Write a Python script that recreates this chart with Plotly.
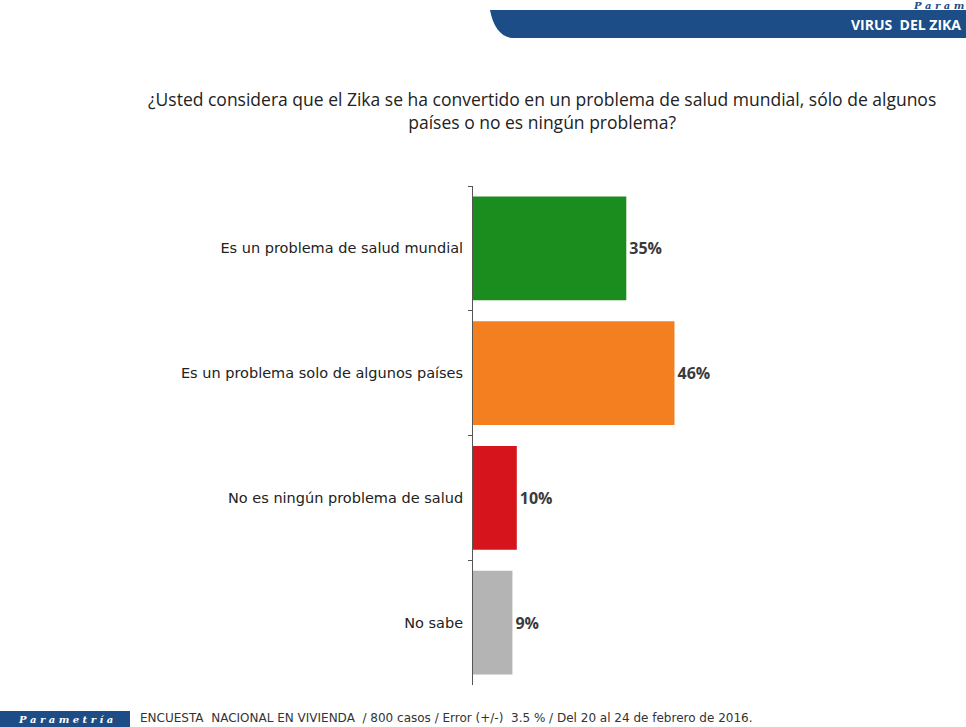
import plotly.graph_objects as go

categories = ["Es un problema de salud mundial", "Es un problema solo de algunos países",
              "No es ningún problema de salud", "No sabe"]
values = [35, 46, 10, 9]
labels = ["35%", "46%", "10%", "9%"]
colors = ["#1b8c1e", "#f47f20", "#d5141b", "#b4b4b4"]

W, H = 966, 727
def px(x): return x / W
def py(y): return 1 - y / H

fig = go.Figure(go.Bar(
    x=values, y=categories, orientation="h",
    marker=dict(color=colors, line=dict(width=0)),
    text=["<b>%s</b>" % t for t in labels], textposition="outside", cliponaxis=False,
    textfont=dict(family="Open Sans", size=16, color="#3a3a3a"),
    width=0.83,
))

fig.update_layout(
    width=W, height=H, margin=dict(l=0, r=0, t=0, b=0),
    paper_bgcolor="white", plot_bgcolor="rgba(0,0,0,0)",
    showlegend=False,
    xaxis=dict(domain=[px(473), px(911)], range=[0, 100], visible=False),
    yaxis=dict(domain=[py(685), py(186)], autorange="reversed",
               showline=True, linecolor="#555", linewidth=1,
               ticks="outside", ticklen=4, tickcolor="#555", tickson="boundaries",
               ticklabelstandoff=6,
               tickfont=dict(family="DejaVu Sans", size=14.5, color="#222"),
               showgrid=False, zeroline=False),
    font=dict(family="Open Sans"),
)

# header band
fig.add_shape(type="path", xref="paper", yref="paper",
              path=f"M {px(500)} {py(10)} L {px(966)} {py(10)} L {px(966)} {py(38)} L {px(512)} {py(38)} Q {px(495)} {py(36)} {px(490)} {py(10)} Z",
              fillcolor="#1c4d86", line=dict(width=0), layer="below")
fig.add_annotation(x=px(963), y=py(25), xref="paper", yref="paper", text="<b>VIRUS  DEL ZIKA</b>",
                   showarrow=False, xanchor="right", yanchor="middle",
                   font=dict(family="Open Sans", size=14, color="white"))
fig.add_annotation(x=px(966), y=py(5), xref="paper", yref="paper", text="<b><i>P a r a m</i></b>",
                   showarrow=False, xanchor="right", yanchor="middle",
                   font=dict(family="DejaVu Serif", size=10, color="#1c4d86"))

# title
fig.add_annotation(x=px(542), y=py(111), xref="paper", yref="paper",
                   text="¿Usted considera que el Zika se ha convertido en un problema de salud mundial, sólo de algunos<br>países o no es ningún problema?",
                   showarrow=False, xanchor="center", yanchor="middle", align="center",
                   font=dict(family="Open Sans", size=17.5, color="#222"))

# footer
fig.add_shape(type="rect", xref="paper", yref="paper",
              x0=px(0), x1=px(130), y0=py(727), y1=py(711),
              fillcolor="#1c4d86", line=dict(width=0))
fig.add_annotation(x=px(65), y=py(719), xref="paper", yref="paper", text="<b><i>P a r a m e t r í a</i></b>",
                   showarrow=False, xanchor="center", yanchor="middle",
                   font=dict(family="DejaVu Serif", size=10, color="white"))
fig.add_annotation(x=px(138), y=py(718), xref="paper", yref="paper",
                   text="ENCUESTA  NACIONAL EN VIVIENDA  / 800 casos / Error (+/-)  3.5 % / Del 20 al 24 de febrero de 2016.",
                   showarrow=False, xanchor="left", yanchor="middle",
                   font=dict(family="DejaVu Sans", size=12, color="#333"))

fig.write_html("out.html", config={"displayModeBar": False},
               post_script="document.body.style.margin='0';document.body.style.overflow='hidden';")
